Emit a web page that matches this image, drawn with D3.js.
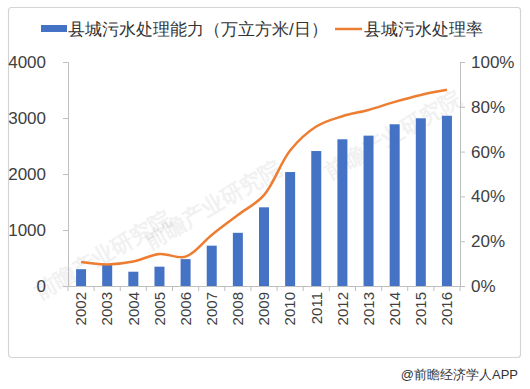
<!DOCTYPE html>
<html>
<head>
<meta charset="utf-8">
<script src="https://cdn.jsdelivr.net/npm/d3@7"></script>
<style>
  body { margin: 0; background: #fff; }
  text { font-family: "Liberation Sans", Arial, sans-serif; }
</style>
</head>
<body>
<script>
// chart data
var years = ['2002', '2003', '2004', '2005', '2006', '2007', '2008', '2009',
  '2010', '2011', '2012', '2013', '2014', '2015', '2016'];
var capacity = [300, 375, 255, 345, 480, 720, 950, 1405, 2035, 2410, 2620, 2685, 2888, 2995, 3040];
var rate = [10.7, 9.6, 10.9, 14.3, 13.1, 22.8, 31.7, 40.6, 60.5, 71.2, 75.8, 78.6, 82.2, 85.3, 87.6];
var leftTicks = [0, 1000, 2000, 3000, 4000];
var rightTicks = [0, 20, 40, 60, 80, 100];
var legendLabels = ['县城污水处理能力（万立方米/日）', '县城污水处理率'];

var wW = 530, wH = 389;
var plot = { left: 68, right: 460, top: 62, bottom: 286 };
var axisColor = '#bfbfbf';
var labelColor = '#404040';

var svg = d3.select('body').append('svg')
  .attr('width', wW)
  .attr('height', wH);

// frame around the chart
svg.append('rect')
  .attr('x', 8.5).attr('y', 7.5)
  .attr('width', 512).attr('height', 350)
  .attr('rx', 3)
  .attr('fill', 'none')
  .attr('stroke', '#d4d4d4')
  .attr('stroke-width', 1.2);

// faint watermarks, kept inside the frame
var marks = [[150, 250], [330, 180], [40, 300]];
marks.forEach((m) => {
  svg.append('text')
    .attr('transform', 'translate(' + m[0] + ',' + m[1] + ') rotate(-30)')
    .attr('font-family', 'Noto Sans CJK SC')
    .attr('font-size', 22)
    .attr('font-weight', 'bold')
    .attr('fill', '#000')
    .attr('opacity', 0.05)
    .text('前瞻产业研究院');
});

var x = d3.scaleBand()
  .domain(years)
  .range([plot.left, plot.right]);

var yL = d3.scaleLinear()
  .domain([0, 4000])
  .range([plot.bottom, plot.top]);

var yR = d3.scaleLinear()
  .domain([0, 100])
  .range([plot.bottom, plot.top]);

// bars
svg.append('g').selectAll('rect')
  .data(capacity)
  .enter().append('rect')
  .attr('x', (d, i) => x(years[i]) + x.bandwidth() / 2 - 5)
  .attr('width', 10)
  .attr('y', (d) => yL(d))
  .attr('height', (d) => yL(0) - yL(d))
  .attr('fill', '#4472c4');

// left axis
var gL = svg.append('g')
  .attr('transform', 'translate(' + plot.left + ',0)')
  .call(d3.axisLeft(yL).tickValues(leftTicks).tickSize(5).tickPadding(17)
    .tickFormat(d3.format('d')));
// right axis
var gR = svg.append('g')
  .attr('transform', 'translate(' + plot.right + ',0)')
  .call(d3.axisRight(yR).tickValues(rightTicks).tickSize(5).tickPadding(6)
    .tickFormat((d) => d + '%'));
// bottom axis
var gB = svg.append('g')
  .attr('transform', 'translate(0,' + plot.bottom + ')')
  .call(d3.axisBottom(x).tickSize(0).tickPadding(8));

[gL, gR, gB].forEach((g) => {
  g.select('.domain').attr('stroke', axisColor);
  g.selectAll('.tick line').attr('stroke', axisColor);
  g.selectAll('text')
    .attr('fill', labelColor)
    .attr('font-family', 'Liberation Sans, Arial, sans-serif');
});
gL.selectAll('text').attr('font-size', 17);
gR.selectAll('text').attr('font-size', 17);

gB.selectAll('.tick text')
  .attr('font-size', 15)
  .attr('transform', 'rotate(-90)')
  .attr('text-anchor', 'end')
  .attr('x', -6)
  .attr('y', 0)
  .attr('dy', '0.35em');

// category separator ticks on the x axis
years.forEach((yr) => {
  gB.append('line')
    .attr('x1', x(yr)).attr('x2', x(yr))
    .attr('y1', 0).attr('y2', 5)
    .attr('stroke', axisColor);
});
gB.append('line')
  .attr('x1', plot.right).attr('x2', plot.right)
  .attr('y1', 0).attr('y2', 5)
  .attr('stroke', axisColor);

// rate line
var line = d3.line()
  .x((d, i) => x(years[i]) + x.bandwidth() / 2)
  .y((d) => yR(d))
  .curve(d3.curveCatmullRom.alpha(0.5));

svg.append('path')
  .datum(rate)
  .attr('d', line)
  .attr('fill', 'none')
  .attr('stroke', '#ed7d31')
  .attr('stroke-width', 2.5);

// legend
var legend = svg.append('g');
legend.append('rect')
  .attr('x', 41).attr('y', 25)
  .attr('width', 26).attr('height', 7)
  .attr('fill', '#4472c4');
legend.append('text')
  .attr('x', 68).attr('y', 29)
  .attr('dy', '0.35em')
  .attr('font-family', 'Noto Sans CJK SC')
  .attr('font-size', 17)
  .attr('fill', '#333')
  .text(legendLabels[0]);
legend.append('line')
  .attr('x1', 335).attr('x2', 362)
  .attr('y1', 29).attr('y2', 29)
  .attr('stroke', '#ed7d31')
  .attr('stroke-width', 2.5);
legend.append('text')
  .attr('x', 364).attr('y', 29)
  .attr('dy', '0.35em')
  .attr('font-family', 'Noto Sans CJK SC')
  .attr('font-size', 17)
  .attr('fill', '#333')
  .text(legendLabels[1]);

// source note
svg.append('text')
  .attr('x', 518).attr('y', 374)
  .attr('dy', '0.35em')
  .attr('text-anchor', 'end')
  .attr('font-family', 'Noto Sans CJK SC')
  .attr('font-size', 13)
  .attr('fill', '#333')
  .text('@前瞻经济学人APP');
</script>
</body>
</html>
